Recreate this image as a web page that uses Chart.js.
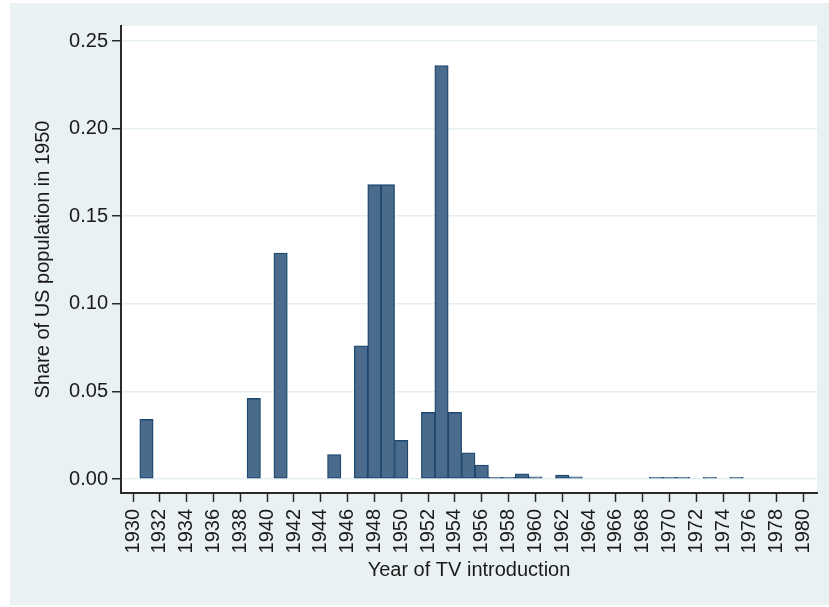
<!DOCTYPE html>
<html lang="en">
<head>
  <meta charset="UTF-8">
  <title>Year of TV introduction</title>
  <script src="https://cdn.jsdelivr.net/npm/chart.js"></script>
  <style>
    body {
      margin: 0;
      background: #fff;
    }

    #frame {
      position: absolute;
      left: 10px;
      top: 3px;
      width: 819px;
      height: 602px;
      background: #eaf1f3;
    }
  </style>
</head>
<body>
  <div id="frame">
    <canvas id="tvChart" width="819" height="602"></canvas>
  </div>

  <script>
    // share of 1950 US population by year TV arrived
    const years = [1931, 1939, 1941, 1945, 1947, 1948, 1949, 1950, 1952, 1953, 1954, 1955,
                   1956, 1957, 1958, 1959, 1960, 1962, 1963, 1969, 1970, 1971, 1973, 1975];
    const shares = [0.034, 0.046, 0.129, 0.014, 0.076, 0.168, 0.168, 0.022, 0.038, 0.236, 0.038, 0.015,
                    0.008, 0.0009, 0.0009, 0.003, 0.0012, 0.0022, 0.0012, 0.0009, 0.0009, 0.0009, 0.0009, 0.0009];

    const xTicks = [1930, 1932, 1934, 1936, 1938, 1940, 1942, 1944, 1946, 1948, 1950, 1952, 1954,
                    1956, 1958, 1960, 1962, 1964, 1966, 1968, 1970, 1972, 1974, 1976, 1978, 1980];
    const yTicks = [0, 0.05, 0.10, 0.15, 0.20, 0.25];

    const textColor = '#1a1a1a';
    const axisColor = '#2a2a2a';
    const fontFamily = "'Liberation Sans', Arial, sans-serif";

    const plotBackground = {
      id: 'plotBackground',
      beforeDraw(chart) {
        const { ctx, chartArea: a } = chart;
        ctx.save();
        ctx.fillStyle = '#fff';
        ctx.fillRect(a.left, a.top, a.right - a.left, a.bottom - a.top);
        ctx.restore();
      }
    };

    new Chart(document.getElementById('tvChart'), {
      type: 'bar',
      data: {
        datasets: [{
          data: years.map((y, i) => ({ x: y, y: shares[i] })),
          backgroundColor: '#4a6b8c',
          borderColor: '#1d4870',
          borderWidth: 1.3,
          borderSkipped: false,
          barPercentage: 1,
          categoryPercentage: 1
        }]
      },
      options: {
        responsive: false,
        animation: false,
        layout: { padding: { left: 0, top: 23, right: 12, bottom: 0 } },
        plugins: {
          legend: { display: false },
          tooltip: { enabled: false }
        },
        scales: {
          x: {
            type: 'linear',
            offset: false,
            min: 1929.1,
            max: 1981,
            afterBuildTicks: s => { s.ticks = xTicks.map(v => ({ value: v })); },
            afterFit: s => {
              s.height = 112;
              s.paddingLeft = 0;
              s.paddingRight = 0;
            },
            ticks: {
              autoSkip: false,
              minRotation: 90,
              maxRotation: 90,
              padding: 7,
              color: textColor,
              font: { family: fontFamily, size: 20 },
              callback: v => String(v)
            },
            grid: {
              offset: false,
              drawOnChartArea: false,
              tickLength: 9,
              tickColor: axisColor,
              tickWidth: 1.5
            },
            border: { display: true, color: axisColor, width: 2 },
            title: {
              display: true,
              text: 'Year of TV introduction',
              color: textColor,
              font: { family: fontFamily, size: 20 },
              padding: { top: 0, bottom: 23 }
            }
          },
          y: {
            min: -0.008,
            max: 0.2586,
            afterBuildTicks: s => { s.ticks = yTicks.map(v => ({ value: v })); },
            afterFit: s => {
              s.width = 111;
              s.paddingTop = 0;
              s.paddingBottom = 0;
            },
            ticks: {
              padding: 4,
              color: textColor,
              font: { family: fontFamily, size: 20 },
              callback: v => v.toFixed(2)
            },
            grid: {
              color: '#e6eff2',
              lineWidth: 1.5,
              tickLength: 9,
              tickColor: axisColor,
              tickWidth: 1.5
            },
            border: { display: true, color: axisColor, width: 2 },
            title: {
              display: true,
              text: 'Share of US population in 1950',
              color: textColor,
              font: { family: fontFamily, size: 20 },
              padding: { top: 21, bottom: 0 }
            }
          }
        }
      },
      plugins: [plotBackground]
    });
  </script>
</body>
</html>
